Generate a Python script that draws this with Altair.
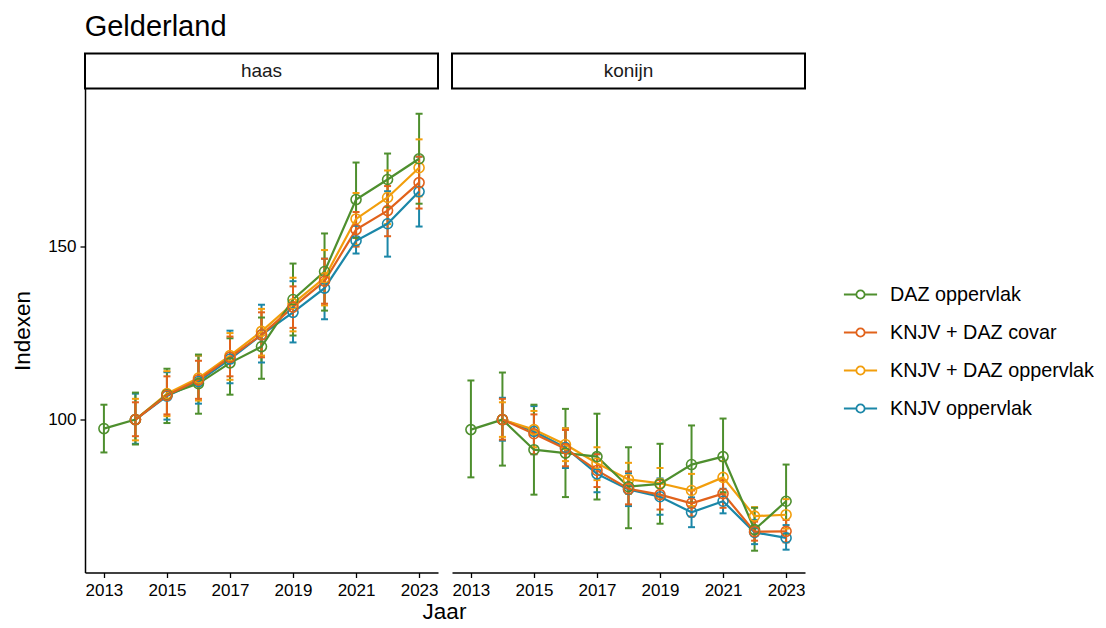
import altair as alt
import pandas as pd

years = list(range(2013, 2024))
series_names = ["DAZ oppervlak", "KNJV + DAZ covar", "KNJV + DAZ oppervlak", "KNJV oppervlak"]
series_colors = ["#4E8F2E", "#E1621B", "#F29E0C", "#1B87A8"]
draw_order = ["KNJV oppervlak", "KNJV + DAZ oppervlak", "DAZ oppervlak", "KNJV + DAZ covar"]

haas_daz = [97.4, 100, 107.2, 110.4, 116.4, 121.1, 134.7, 142.8, 163.6, 169.4, 175.4]
haas_daz_lo = [90.5, 92.8, 99.0, 101.7, 107.2, 111.8, 124.3, 131.5, 152.5, 161.5, 162.4]
haas_daz_hi = [104.3, 107.8, 114.7, 118.8, 123.5, 129.5, 145.1, 153.8, 174.3, 176.9, 188.4]
haas_covar = [None, 100, 107.0, 111.5, 118.0, 124.5, 132.5, 140.0, 154.9, 160.4, 168.5]
haas_covar_lo = [None, 95.2, 101.5, 106.0, 112.5, 118.0, 126.5, 133.5, 150.0, 153.0, 161.0]
haas_covar_hi = [None, 105.0, 112.5, 117.0, 124.0, 131.0, 138.5, 146.5, 160.0, 167.5, 176.0]
haas_opp = [None, 100, 107.5, 112.0, 118.5, 125.5, 133.5, 141.0, 158.0, 164.2, 172.8]
haas_opp_lo = [None, 94.0, 101.0, 105.5, 111.5, 118.5, 125.5, 133.0, 150.5, 156.5, 164.5]
haas_opp_hi = [None, 106.0, 114.0, 118.5, 125.0, 132.0, 141.0, 149.0, 165.5, 172.0, 181.0]
haas_knjv = [None, 100, 106.8, 111.0, 117.5, 124.5, 131.0, 138.0, 151.7, 156.6, 165.9]
haas_knjv_lo = [None, 93.0, 100.0, 104.6, 110.5, 116.5, 122.3, 129.0, 148.0, 147.1, 155.8]
haas_knjv_hi = [None, 107.5, 113.7, 118.5, 125.7, 133.2, 140.0, 146.5, 156.0, 166.0, 176.0]

kon_daz = [97.1, 100, 91.3, 90.3, 89.3, 80.6, 81.4, 87.0, 89.3, 68.2, 76.4]
kon_daz_lo = [83.3, 86.7, 78.3, 77.6, 76.9, 68.6, 69.9, 76.0, 79.0, 62.1, 67.0]
kon_daz_hi = [111.3, 113.6, 104.3, 103.1, 101.7, 92.0, 93.0, 98.3, 100.3, 74.5, 87.0]
kon_covar = [None, 100, 95.9, 91.6, 85.3, 80.0, 78.3, 75.8, 78.6, 67.6, 67.7]
kon_covar_lo = [None, 94.2, 90.0, 86.5, 80.5, 75.5, 74.0, 72.0, 74.5, 65.0, 64.5]
kon_covar_hi = [None, 106.0, 101.5, 97.0, 90.0, 85.0, 82.5, 79.5, 82.5, 70.5, 71.0]
kon_opp = [None, 100, 97.1, 92.8, 87.4, 82.7, 81.6, 79.5, 83.3, 72.1, 72.5]
kon_opp_lo = [None, 95.0, 92.0, 88.0, 82.5, 78.5, 77.5, 75.0, 78.5, 69.0, 68.5]
kon_opp_hi = [None, 105.0, 102.5, 97.5, 92.0, 87.5, 86.0, 84.3, 88.0, 74.7, 77.0]
kon_knjv = [None, 100, 96.6, 91.9, 84.3, 79.8, 77.7, 73.2, 76.4, 67.4, 65.8]
kon_knjv_lo = [None, 93.9, 90.0, 86.0, 79.0, 75.0, 72.5, 68.9, 72.9, 64.0, 62.4]
kon_knjv_hi = [None, 106.3, 103.9, 97.5, 90.0, 84.5, 83.0, 77.5, 80.0, 71.0, 69.5]

table = {
    "haas": {
        "DAZ oppervlak": (haas_daz, haas_daz_lo, haas_daz_hi),
        "KNJV + DAZ covar": (haas_covar, haas_covar_lo, haas_covar_hi),
        "KNJV + DAZ oppervlak": (haas_opp, haas_opp_lo, haas_opp_hi),
        "KNJV oppervlak": (haas_knjv, haas_knjv_lo, haas_knjv_hi),
    },
    "konijn": {
        "DAZ oppervlak": (kon_daz, kon_daz_lo, kon_daz_hi),
        "KNJV + DAZ covar": (kon_covar, kon_covar_lo, kon_covar_hi),
        "KNJV + DAZ oppervlak": (kon_opp, kon_opp_lo, kon_opp_hi),
        "KNJV oppervlak": (kon_knjv, kon_knjv_lo, kon_knjv_hi),
    },
}

rows = []
for sp, d in table.items():
    for s in draw_order:
        v, lo, hi = d[s]
        for i, yr in enumerate(years):
            if v[i] is None:
                continue
            rows.append({"species": sp, "series": s, "year": yr,
                         "value": v[i], "lo": lo[i], "hi": hi[i]})
df = pd.DataFrame(rows)

W, H = 353, 484
FONT = "Liberation Sans"
xscale = alt.Scale(domain=[2012.4, 2023.6], nice=False, zero=False)
yscale = alt.Scale(domain=[55.8, 195.7], nice=False, zero=False)
color = alt.Color("series:N", scale=alt.Scale(domain=series_names, range=series_colors),
                  legend=alt.Legend(title=None))


def panel(sp, left):
    sub = df[df.species == sp]
    base = alt.Chart(sub)
    xax = alt.Axis(values=[2013, 2015, 2017, 2019, 2021, 2023], format="d", grid=False,
                   title="Jaar" if left else None, titleX=359, titleY=28,
                   tickSize=5, tickWidth=1.3, domainWidth=1.5, labelPadding=5)
    x = alt.X("year:Q", scale=xscale, axis=xax)
    if left:
        yax = alt.Axis(values=[100, 150], grid=False, title="Indexen", tickSize=5,
                       tickWidth=1.3, domainWidth=1.5, titlePadding=13, labelPadding=4)
    else:
        yax = None
    y = alt.Y("value:Q", scale=yscale, axis=yax)
    ylo = alt.Y("lo:Q", scale=yscale, axis=yax)
    yhi = alt.Y("hi:Q", scale=yscale, axis=yax)
    rules = base.mark_rule(strokeWidth=2).encode(x=x, y=ylo, y2="hi:Q", color=color)
    clo = base.mark_rule(strokeWidth=2, xOffset=-3.5, x2Offset=3.5).encode(
        x=x, x2="year:Q", y=ylo, color=color)
    chi = base.mark_rule(strokeWidth=2, xOffset=-3.5, x2Offset=3.5).encode(
        x=x, x2="year:Q", y=yhi, color=color)
    line = base.mark_line(strokeWidth=2.2).encode(x=x, y=y, color=color)
    pts = base.mark_point(filled=False, size=100, strokeWidth=1.6, opacity=1).encode(x=x, y=y, color=color)

    sdf = pd.DataFrame({"t": [sp]})
    box = alt.Chart(sdf).mark_rect(fill="white", stroke="black", strokeWidth=2).encode(
        x=alt.value(0), x2=alt.value(W), y=alt.value(-35), y2=alt.value(0))
    txt = alt.Chart(sdf).mark_text(font=FONT, fontSize=19, color="#1a1a1a", baseline="middle").encode(
        text="t:N", x=alt.value(W / 2), y=alt.value(-17.5))
    return alt.layer(rules, clo, chi, line, pts, box, txt).properties(width=W, height=H)


chart = alt.hconcat(panel("haas", True), panel("konijn", False), spacing=14, bounds="flush").properties(
    title=alt.TitleParams("Gelderland", anchor="start", fontSize=29, font=FONT,
                          fontWeight="normal", color="black", offset=10.5, dx=73),
    padding={"left": 3, "top": 4.5, "right": 0, "bottom": 0}
).configure_view(stroke=None).configure_axis(
    labelFont=FONT, titleFont=FONT, labelFontSize=17, titleFontSize=22.5,
    labelColor="black", titleColor="black", domainColor="black", tickColor="black",
    titleFontWeight="normal"
).configure_legend(
    orient="none", legendX=758, legendY=188.5, labelFont=FONT, labelFontSize=19.8,
    labelColor="black", rowPadding=10, labelLimit=400,
    symbolType="M-1,0H-0.25M0.25,0H1M0.25,0A0.25,0.25 0 1,1 -0.25,0A0.25,0.25 0 1,1 0.25,0",
    symbolSize=1100, symbolStrokeWidth=1.8, symbolFillColor="white", symbolOpacity=1,
    labelOffset=12
)

chart.save("out.html", embed_options={"renderer": "svg", "actions": False})
